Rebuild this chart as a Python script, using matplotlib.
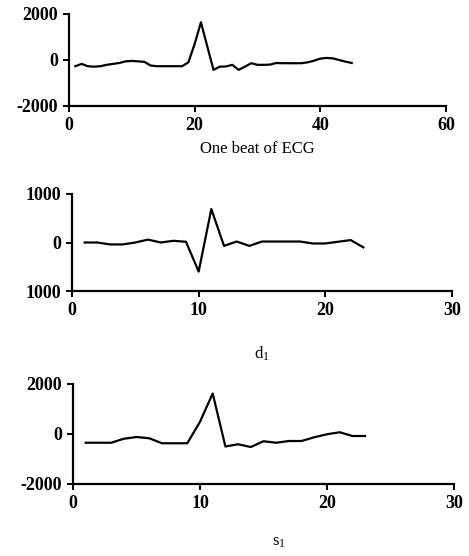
import matplotlib
matplotlib.use('Agg')
import matplotlib.pyplot as plt

plt.rcParams['font.family'] = ['Liberation Serif', 'DejaVu Serif']
plt.rcParams['mathtext.default'] = 'regular'

# one beat of ECG, samples 1..45
ecg_x = list(range(1, 46))
ecg_y = [-270, -170, -270, -290, -270, -210, -170, -130, -60, -40,
         -60, -80, -240, -270, -270, -270, -270, -270, -100, 700,
         1640, 600, -430, -290, -280, -210, -430, -290, -140, -210,
         -210, -200, -130, -140, -140, -140, -140, -100, -30, 60,
         90, 70, 0, -70, -130]

# detail coefficients d1, 1..23
d1_x = list(range(1, 24))
d1_y = [0, 0, -40, -40, 0, 60, 0, 35, 15, -600,
        690, -70, 20, -70, 20, 20, 20, 20, -20, -20,
        15, 50, -100]

# approximation coefficients s1, 1..23
s1_x = list(range(1, 24))
s1_y = [-350, -350, -350, -190, -120, -170, -370, -370, -370, 490,
        1620, -500, -410, -520, -290, -350, -280, -280, -130, -10,
        70, -80, -80]

ecg_xticks = [0, 20, 40, 60]
ecg_yticks = [-2000, 0, 2000]
ecg_yticklabels = ['-2000', '0', '2000']
d1_xticks = [0, 10, 20, 30]
d1_yticks = [-1000, 0, 1000]
d1_yticklabels = ['1000', '0', '1000']
s1_xticks = [0, 10, 20, 30]
s1_yticks = [-2000, 0, 2000]
s1_yticklabels = ['-2000', '0', '2000']

W, H = 469, 556
fig = plt.figure(figsize=(W / 100, H / 100), dpi=100)


def make_ax(left, right, top, bottom):
    return fig.add_axes([left / W, 1 - bottom / H, (right - left) / W, (bottom - top) / H])


panels = [
    (make_ax(69, 446, 14, 106), ecg_x, ecg_y, ecg_xticks, ecg_yticks, ecg_yticklabels,
     'One beat of ECG', (0.5, -0.38)),
    (make_ax(72, 452, 194, 291), d1_x, d1_y, d1_xticks, d1_yticks, d1_yticklabels,
     '$d_1$', (0.5, -0.55)),
    (make_ax(73, 454, 384, 484), s1_x, s1_y, s1_xticks, s1_yticks, s1_yticklabels,
     '$s_1$', (0.54, -0.5)),
]

for ax, x, y, xt, yt, ytl, lab, lpos in panels:
    ax.plot(x, y, color='black', lw=1.6)
    ax.set_xlim(xt[0], xt[-1])
    ax.set_ylim(yt[0], yt[-1])
    ax.set_xticks(xt)
    ax.set_yticks(yt)
    ax.set_yticklabels(ytl)
    for s in ['top', 'right']:
        ax.spines[s].set_visible(False)
    for s in ['left', 'bottom']:
        ax.spines[s].set_linewidth(1.6)
    ax.tick_params(direction='out', length=4, width=1.4, labelsize=13, pad=4)
    for t in ax.get_xticklabels() + ax.get_yticklabels():
        t.set_fontweight('bold')
    ax.set_xlabel(lab, fontsize=12)
    ax.xaxis.set_label_coords(*lpos)
    ax.patch.set_visible(False)

fig.savefig('out.png', dpi=100)
